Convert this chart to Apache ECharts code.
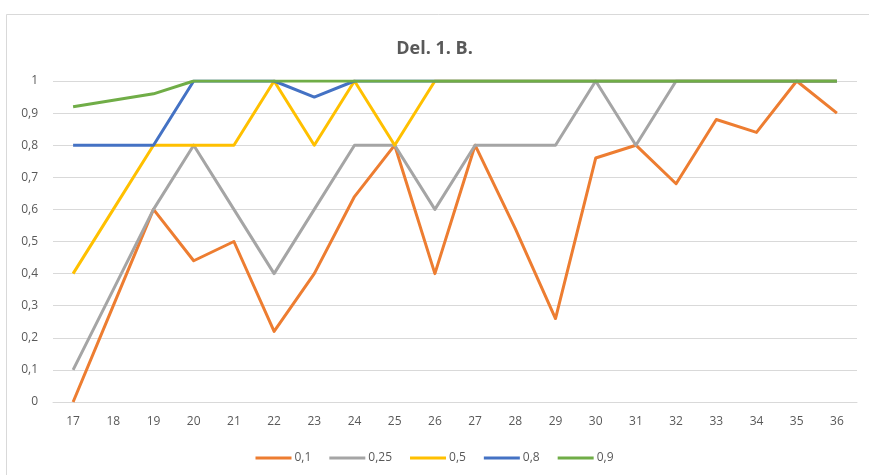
<!DOCTYPE html>
<html>
<head>
<meta charset="utf-8">
<script src="https://cdn.jsdelivr.net/npm/echarts@6/dist/echarts.min.js"></script>
<style>
  html, body { margin: 0; padding: 0; background: #fff; }
  #chart { width: 869px; height: 475px; }
</style>
</head>
<body>
<div id="chart"></div>
<script>
// x categories
var categories = ['17','18','19','20','21','22','23','24','25','26','27','28','29','30','31','32','33','34','35','36'];

// series values
var s01  = [0, 0.3, 0.6, 0.44, 0.5, 0.22, 0.4, 0.64, 0.8, 0.4, 0.8, 0.54, 0.26, 0.76, 0.8, 0.68, 0.88, 0.84, 1, 0.9];
var s025 = [0.1, 0.35, 0.6, 0.8, 0.6, 0.4, 0.6, 0.8, 0.8, 0.6, 0.8, 0.8, 0.8, 1, 0.8, 1, 1, 1, 1, 1];
var s05  = [0.4, 0.6, 0.8, 0.8, 0.8, 1, 0.8, 1, 0.8, 1, 1, 1, 1, 1, 1, 1, 1, 1, 1, 1];
var s08  = [0.8, 0.8, 0.8, 1, 1, 1, 0.95, 1, 1, 1, 1, 1, 1, 1, 1, 1, 1, 1, 1, 1];
var s09  = [0.92, 0.94, 0.96, 1, 1, 1, 1, 1, 1, 1, 1, 1, 1, 1, 1, 1, 1, 1, 1, 1];

var seriesNames = ['0,1', '0,25', '0,5', '0,8', '0,9'];
var seriesColors = ['#ED7D31', '#A5A5A5', '#FFC000', '#4472C4', '#70AD47'];
var seriesData = [s01, s025, s05, s08, s09];

var chart = echarts.init(document.getElementById('chart'));

var labelFont = 'Open Sans';

var option = {
    animation: false,
    backgroundColor: '#fff',
    title: {
        text: 'Del. 1. B.',
        left: 'center',
        top: 35,
        textStyle: {
            fontFamily: labelFont,
            fontWeight: 'bold',
            fontSize: 18,
            color: '#595959'
        }
    },
    graphic: [
        {
            type: 'rect',
            shape: { x: 6.5, y: 14.5, width: 900, height: 500 },
            style: { fill: 'none', stroke: '#D9D9D9', lineWidth: 1 },
            silent: true,
            z: -1
        }
    ],
    legend: {
        bottom: 6,
        left: 'center',
        icon: 'rect',
        itemWidth: 36,
        itemHeight: 3,
        itemGap: 18,
        textStyle: {
            fontFamily: labelFont,
            fontSize: 12,
            color: '#595959',
            padding: [0, 0, 0, -2]
        },
        data: seriesNames
    },
    grid: {
        left: 53,
        right: 12,
        top: 81,
        bottom: 73,
        containLabel: false
    },
    xAxis: {
        type: 'category',
        data: categories,
        boundaryGap: true,
        axisLine: { show: true, lineStyle: { color: '#D9D9D9', width: 1 } },
        axisTick: { show: false },
        axisLabel: {
            fontFamily: labelFont,
            fontSize: 12,
            color: '#595959',
            margin: 14
        }
    },
    yAxis: {
        type: 'value',
        min: 0,
        max: 1,
        interval: 0.1,
        axisLine: { show: false },
        axisTick: { show: false },
        splitLine: { lineStyle: { color: '#D9D9D9', width: 1 } },
        axisLabel: {
            fontFamily: labelFont,
            fontSize: 12,
            color: '#595959',
            margin: 15,
            formatter: function (v) {
                var r = Math.round(v * 10) / 10;
                return String(r).replace('.', ',');
            }
        }
    },
    series: seriesData.map(function (d, i) {
        return {
            name: seriesNames[i],
            type: 'line',
            data: d,
            symbol: 'none',
            color: seriesColors[i],
            lineStyle: { width: 3, color: seriesColors[i], join: 'round' },
            z: 2 + i
        };
    })
};

chart.setOption(option);
</script>
</body>
</html>
